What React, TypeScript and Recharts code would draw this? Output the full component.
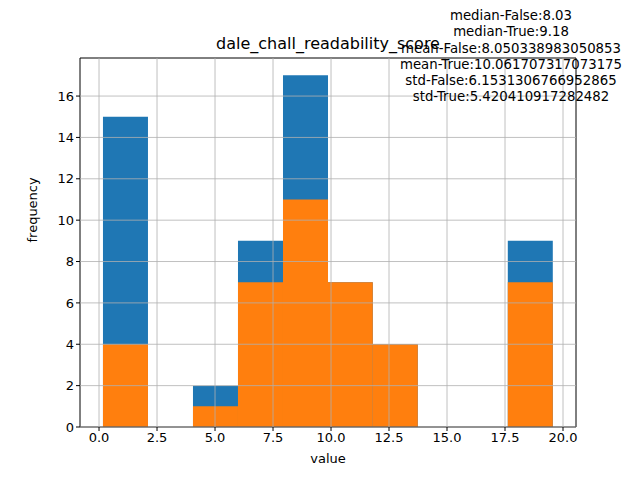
import { ComposedChart, XAxis, YAxis, ReferenceArea, ReferenceLine, Line } from "recharts";

const binEdges = [0.17, 2.11, 4.05, 5.99, 7.93, 9.87, 11.8, 13.74, 15.68, 17.62, 19.56];
const falseCounts = [15, 0, 2, 9, 17, 7, 4, 0, 0, 9];
const trueCounts = [4, 0, 1, 7, 11, 7, 4, 0, 0, 7];
const xTicks = [0, 2.5, 5, 7.5, 10, 12.5, 15, 17.5, 20];
const yTicks = [0, 2, 4, 6, 8, 10, 12, 14, 16];
const statLines = [
  "median-False:8.03",
  "median-True:9.18",
  "mean-False:8.050338983050853",
  "mean-True:10.061707317073175",
  "std-False:6.1531306766952865",
  "std-True:5.420410917282482",
];

const X_DOMAIN: [number, number] = [-0.82, 20.56];
const Y_DOMAIN: [number, number] = [0, 17.84];
const font = "DejaVu Sans, sans-serif";

const data = falseCounts.map((f, i) => ({ mid: (binEdges[i] + binEdges[i + 1]) / 2, f }));

export default function App() {
  return (
    <div style={{ position: "absolute", left: 0, top: 0, width: 640, height: 480, background: "#fff", fontFamily: font }}>
      <ComposedChart width={640} height={480} data={data} margin={{ top: 58, right: 64, bottom: 23, left: 0 }}>
        <XAxis dataKey="mid" type="number" domain={X_DOMAIN} allowDataOverflow ticks={xTicks} height={30}
          tickFormatter={(v: number) => v.toFixed(1)} tick={{ fontSize: 13, fill: "#000", fontFamily: font }}
          tickLine={{ stroke: "#000" }} axisLine={false} tickSize={4}
          label={{ value: "value", position: "insideBottom", offset: -6, fontSize: 13, fill: "#000", fontFamily: font }} />
        <YAxis type="number" domain={Y_DOMAIN} allowDataOverflow ticks={yTicks} width={80}
          tick={{ fontSize: 13, fill: "#000", fontFamily: font }} tickLine={{ stroke: "#000" }} axisLine={false} tickSize={4}
          label={{ value: "frequency", angle: -90, position: "insideLeft", offset: 32, fontSize: 13, fill: "#000", fontFamily: font }} />
        {falseCounts.map((c, i) => c > 0 ? (
          <ReferenceArea key={"f" + i} x1={binEdges[i]} x2={binEdges[i + 1]} y1={0} y2={c} fill="#1f77b4" fillOpacity={1} stroke="none" />
        ) : null)}
        {trueCounts.map((c, i) => c > 0 ? (
          <ReferenceArea key={"t" + i} x1={binEdges[i]} x2={binEdges[i + 1]} y1={0} y2={c} fill="#ff7f0e" fillOpacity={1} stroke="none" />
        ) : null)}
        {xTicks.map((t) => <ReferenceLine key={"gx" + t} x={t} stroke="#b0b0b0" strokeWidth={0.8} />)}
        {yTicks.map((t) => <ReferenceLine key={"gy" + t} y={t} stroke="#b0b0b0" strokeWidth={0.8} />)}
        <Line dataKey="f" stroke="none" dot={false} isAnimationActive={false} />
        <ReferenceArea x1={X_DOMAIN[0]} x2={X_DOMAIN[1]} y1={Y_DOMAIN[0]} y2={Y_DOMAIN[1]} fill="none" stroke="#000" strokeWidth={1} />
      </ComposedChart>
      <div style={{ position: "absolute", left: 0, width: 656, top: 34, textAlign: "center", fontSize: 16, color: "#000" }}>
        dale_chall_readability_score
      </div>
      <div style={{ position: "absolute", left: 390, width: 242, top: 8, textAlign: "center", fontSize: 13.3, lineHeight: "16.3px", color: "#000" }}>
        {statLines.map((s) => <div key={s}>{s}</div>)}
      </div>
    </div>
  );
}
